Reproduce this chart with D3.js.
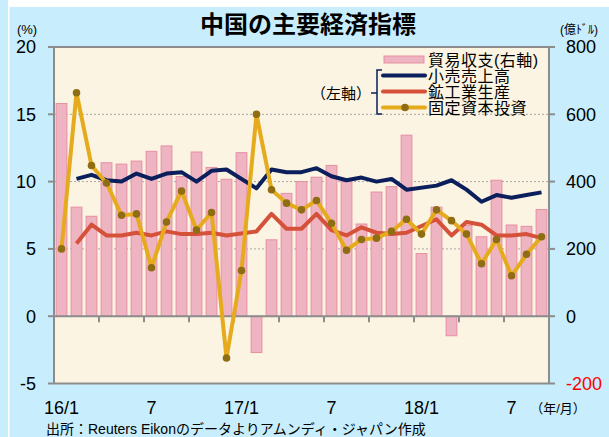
<!DOCTYPE html>
<html>
<head>
<meta charset="utf-8">
<script src="https://cdn.jsdelivr.net/npm/d3@7"></script>
<style>
  html, body { margin: 0; padding: 0; background: #c8edfc; }
  svg { display: block; font-family: "Liberation Sans", Arial, "Noto Sans CJK JP", sans-serif; }
</style>
</head>
<body>
<div class="chart-wrapper"></div>
<script>
// 2016/1 - 2018/9, monthly
const months = ['2016-01','2016-02','2016-03','2016-04','2016-05','2016-06','2016-07','2016-08','2016-09','2016-10','2016-11','2016-12',
  '2017-01','2017-02','2017-03','2017-04','2017-05','2017-06','2017-07','2017-08','2017-09','2017-10','2017-11','2017-12',
  '2018-01','2018-02','2018-03','2018-04','2018-05','2018-06','2018-07','2018-08','2018-09']

// 貿易収支 (億ドル, right axis)
const tradeBalance = [632,324,297,456,452,461,490,506,415,488,442,407,
  486,-108,227,365,400,413,448,400,274,369,385,538,
  186,324,-58,270,236,404,271,267,317]

// 小売売上高 (%, left axis) - Jan is folded into Feb
const retailSales = [null,10.2,10.5,10.1,10.0,10.6,10.2,10.6,10.7,10.0,10.8,10.9,
  null,9.5,10.9,10.7,10.7,11.0,10.4,10.1,10.3,10.0,10.2,9.4,
  null,9.7,10.1,9.4,8.5,9.0,8.8,9.0,9.2]

// 鉱工業生産 (%)
const industrialProd = [null,5.4,6.8,6.0,6.0,6.2,6.0,6.3,6.1,6.1,6.2,6.0,
  null,6.3,7.6,6.5,6.5,7.6,6.4,6.0,6.6,6.2,6.1,6.2,
  null,7.2,6.0,7.0,6.8,6.0,6.0,6.1,5.8]

// 固定資本投資 (%)
const fixedInvest = [5.0,16.6,11.2,9.9,7.5,7.6,3.6,7.0,9.3,6.4,7.7,-3.1,
  3.4,15.0,9.4,8.4,7.9,8.6,6.9,4.9,5.7,5.8,6.3,7.2,
  6.1,7.9,7.1,6.1,3.9,5.7,3.0,4.6,5.9]

const leftTicks = [-5, 0, 5, 10, 15, 20]
const rightTicks = [-200, 0, 200, 400, 600, 800]
const xLabels = [{i: 0, t: '16/1'}, {i: 6, t: '7'}, {i: 12, t: '17/1'}, {i: 18, t: '7'}, {i: 24, t: '18/1'}, {i: 30, t: '7'}]

const width = 609, height = 437
const plot = {left: 54, right: 549, top: 47, bottom: 383.5}
const axisGrey = '#8c8c8c'

const svg = d3.select('.chart-wrapper')
.append('svg')
.attr('width', width)
.attr('height', height)

// frame: light blue with a white rule on the left and top
svg.append('rect').attr('width', width).attr('height', height).attr('fill', '#c8edfc')
svg.append('rect').attr('x', 8).attr('y', 0).attr('width', 1.5).attr('height', height).attr('fill', '#fff')
svg.append('rect').attr('x', 8).attr('y', 0).attr('width', width).attr('height', 7).attr('fill', '#fff')

let x = d3.scaleBand()
.domain(d3.range(months.length))
.range([plot.left, plot.right])
.paddingInner(0.28)
.paddingOuter(0.14)

let yL = d3.scaleLinear().domain([-5, 20]).range([plot.bottom, plot.top])
let yR = d3.scaleLinear().domain([-200, 800]).range([plot.bottom, plot.top])

const cx = i => x(i) + x.bandwidth() / 2

svg.append('rect')
.attr('x', plot.left).attr('y', plot.top)
.attr('width', plot.right - plot.left).attr('height', plot.bottom - plot.top)
.attr('fill', '#fbf4e2')

// dotted grid
svg.selectAll('.grid')
.data([5, 10, 15])
.enter()
.append('line')
.attr('x1', plot.left).attr('x2', plot.right)
.attr('y1', d => yL(d)).attr('y2', d => yL(d))
.attr('stroke', '#a6a6a6').attr('stroke-width', 1).attr('stroke-dasharray', '2,2')

// bars
svg.selectAll('.bar')
.data(tradeBalance)
.enter()
.append('rect')
.attr('class', 'bar')
.attr('x', (d, i) => x(i))
.attr('width', x.bandwidth())
.attr('y', d => yR(Math.max(0, d)))
.attr('height', d => Math.abs(yR(d) - yR(0)))
.attr('fill', '#efb4c1')
.attr('stroke', '#e68fa3')
.attr('stroke-width', 1)

// axes frame
const frame = svg.append('g').attr('stroke', axisGrey).attr('stroke-width', 2).attr('fill', 'none')
frame.append('line').attr('x1', plot.left).attr('x2', plot.left).attr('y1', plot.top).attr('y2', plot.bottom)
frame.append('line').attr('x1', plot.right).attr('x2', plot.right).attr('y1', plot.top).attr('y2', plot.bottom)
frame.append('line').attr('x1', plot.left).attr('x2', plot.right).attr('y1', plot.top).attr('y2', plot.top)
frame.append('line').attr('x1', plot.left).attr('x2', plot.right).attr('y1', plot.bottom).attr('y2', plot.bottom)
frame.append('line').attr('x1', plot.left).attr('x2', plot.right).attr('y1', yL(0)).attr('y2', yL(0))

frame.selectAll('.ltick').data(leftTicks).enter().append('line')
.attr('x1', plot.left - 6).attr('x2', plot.left).attr('y1', d => yL(d)).attr('y2', d => yL(d))
frame.selectAll('.rtick').data(rightTicks).enter().append('line')
.attr('x1', plot.right).attr('x2', plot.right + 6).attr('y1', d => yR(d)).attr('y2', d => yR(d))

// month ticks every quarter on the zero line
frame.selectAll('.xtick').data(d3.range(3, months.length, 3)).enter().append('line')
.attr('x1', d => plot.left + x.step() * d).attr('x2', d => plot.left + x.step() * d)
.attr('y1', yL(0)).attr('y2', yL(0) + 6)

// lines
const line = d3.line().x(d => cx(d.i)).y(d => yL(d.v))
const pts = arr => arr.map((v, i) => ({i, v})).filter(d => d.v !== null)

svg.append('path').attr('d', line(pts(retailSales)))
.attr('fill', 'none').attr('stroke', '#0b1f5c').attr('stroke-width', 4).attr('stroke-linejoin', 'round')
svg.append('path').attr('d', line(pts(industrialProd)))
.attr('fill', 'none').attr('stroke', '#d5513a').attr('stroke-width', 4).attr('stroke-linejoin', 'round')
svg.append('path').attr('d', line(pts(fixedInvest)))
.attr('fill', 'none').attr('stroke', '#e5ab1d').attr('stroke-width', 4).attr('stroke-linejoin', 'round')
svg.selectAll('.dot').data(pts(fixedInvest)).enter().append('circle')
.attr('cx', d => cx(d.i)).attr('cy', d => yL(d.v)).attr('r', 3.8)
.attr('fill', '#8f6d12')

// axis labels
svg.selectAll('.llab').data(leftTicks).enter().append('text')
.attr('x', 36).attr('y', d => yL(d)).attr('dy', '0.36em')
.attr('text-anchor', 'end').attr('font-size', 18).text(d => d)
svg.selectAll('.rlab').data(rightTicks).enter().append('text')
.attr('x', 566).attr('y', d => yR(d)).attr('dy', '0.36em')
.attr('font-size', 18).attr('fill', d => d < 0 ? '#ff0000' : '#000').text(d => d)
svg.selectAll('.xlab').data(xLabels).enter().append('text')
.attr('x', d => cx(d.i)).attr('y', 414)
.attr('text-anchor', 'middle').attr('font-size', 18).text(d => d.t)

svg.append('text').attr('x', 27).attr('y', 34).attr('text-anchor', 'middle').attr('font-size', 13).text('(%)')
svg.append('text').attr('x', 579).attr('y', 34).attr('text-anchor', 'middle').attr('font-size', 12).text('(億ﾄﾞﾙ)')
svg.append('text').attr('x', 558).attr('y', 413).attr('text-anchor', 'middle').attr('font-size', 13).text('（年/月）')

svg.append('text').attr('x', 308).attr('y', 33).attr('text-anchor', 'middle')
.attr('font-size', 24).attr('font-weight', 'bold').text('中国の主要経済指標')

svg.append('text').attr('x', 46).attr('y', 434).attr('font-size', 14)
.text('出所：Reuters Eikonのデータよりアムンディ・ジャパン作成')

// legend
const leg = svg.append('g').attr('font-size', 16).attr('letter-spacing', 0.5)
const legRows = [
  {t: '貿易収支(右軸)', type: 'bar'},
  {t: '小売売上高', type: 'line', c: '#0b1f5c'},
  {t: '鉱工業生産', type: 'line', c: '#d5513a'},
  {t: '固定資本投資', type: 'dot', c: '#e5ab1d'}
]
legRows.forEach((r, k) => {
  let yy = 59.5 + k * 16
  if (r.type === 'bar') {
    leg.append('rect').attr('x', 384).attr('y', yy - 3.5).attr('width', 40).attr('height', 7)
    .attr('fill', '#efb4c1').attr('stroke', '#e68fa3')
  } else {
    leg.append('line').attr('x1', 383).attr('x2', 425).attr('y1', yy).attr('y2', yy)
    .attr('stroke', r.c).attr('stroke-width', 4).attr('stroke-linecap', 'round')
    if (r.type === 'dot') leg.append('circle').attr('cx', 405).attr('cy', yy).attr('r', 3.8).attr('fill', '#8f6d12')
  }
  leg.append('text').attr('x', 428).attr('y', yy).attr('dy', '0.38em').text(r.t)
})

// bracket for left-axis series
svg.append('path')
.attr('d', 'M382,70 H377 V114 H382 M377,93 H371')
.attr('fill', 'none').attr('stroke', '#0b1f5c').attr('stroke-width', 1.5)
svg.append('text').attr('x', 371).attr('y', 93).attr('dy', '0.38em').attr('text-anchor', 'end')
.attr('font-size', 15).text('（左軸）')
</script>
</body>
</html>
